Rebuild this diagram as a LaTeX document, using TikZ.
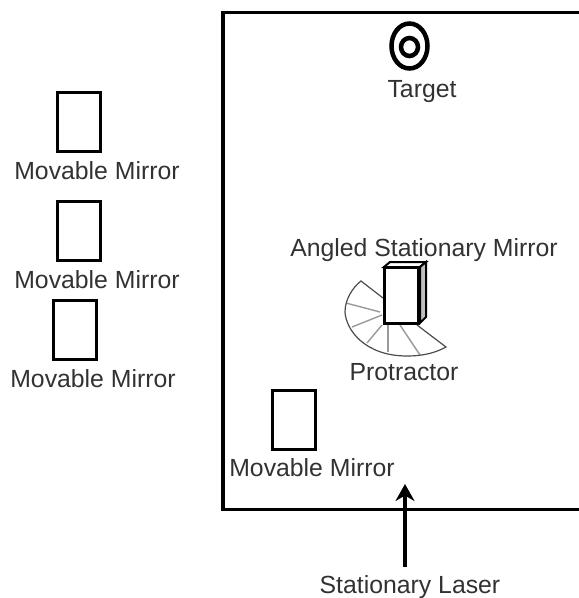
\documentclass[tikz,border=0pt]{standalone}
\usepackage{fontspec}
\setmainfont{Liberation Sans}
\usepackage{xcolor}
\usetikzlibrary{arrows.meta,positioning}
\definecolor{labelgray}{RGB}{50,50,50}
\tikzset{
  mirrorbox/.style={draw,line width=3pt,minimum width=43pt,minimum height=59pt,inner sep=0pt},
  lab/.style={text=labelgray,inner sep=0pt,font=\fontsize{24.8}{27}\selectfont},
  ray/.style={black!40,line width=1.4pt},
}
\begin{document}
\begin{tikzpicture}[x=1pt,y=-1pt,>={Stealth[length=17pt,width=19pt]}]
  \useasboundingbox (0,0) rectangle (579,598);
  % room
  \draw[line width=3.5pt] (579,12.5) -- (223,12.5) -- (223,509.5) -- (579,509.5);
  % target
  \draw[line width=4.5pt] (409.5,46) ellipse (18 and 22.5);
  \draw[line width=4.5pt] (409.5,47) ellipse (8.5 and 9);
  \node[lab] (target) at (422,92) {Target};
  % mirrors outside the room
  \node[mirrorbox] (mirrorA) at (79,121.5) {};
  \node[mirrorbox] (mirrorB) at (79,230.5) {};
  \node[mirrorbox] (mirrorC) at (75,329.5) {};
  \node[mirrorbox] (mirrorD) at (294,419.5) {};
  \node[lab] (labA) at (97,171) {Movable Mirror};
  \node[lab] (labB) at (97,280) {Movable Mirror};
  \node[lab] (labC) at (93,379) {Movable Mirror};
  \node[lab] (labD) at (312,468) {Movable Mirror};
  % protractor
  \draw[ray] (380,312) -- (346,303);
  \draw[ray] (382,315) -- (352,327);
  \draw[ray] (382,325) -- (367,343);
  \draw[ray] (388,325) -- (388,352);
  \draw[ray] (400,325) -- (420,355);
  \draw[black!70,line width=1.2pt] (383,298) -- (361,281)
    .. controls (352,288) and (345,300) .. (345,312)
    .. controls (346,330) and (365,356) .. (407,356)
    .. controls (425,356) and (437,352) .. (446,347) -- (417,325);
  % angled mirror
  \draw[line width=2pt,fill=white] (384,267) -- (390,262) -- (426,262) -- (420,267) -- cycle;
  \draw[line width=2pt,fill=black!25] (420,267) -- (426,262) -- (426,317) -- (420,323) -- cycle;
  \node[draw,line width=3pt,fill=white,minimum width=34pt,minimum height=56pt,inner sep=0pt] (angled) at (401.5,295) {};
  \node[lab] (angledlab) at (424,250) {Angled Stationary Mirror};
  \node[lab] (protlab) at (404,372.5) {Protractor};
  % laser
  \coordinate (laserend) at (405,484);
  \node[lab] (laser) at (410,587) {Stationary Laser};
  \coordinate (laserstart) at (405,567);
  \draw[->,line width=4.5pt] (laserstart) -- (laserend);
\end{tikzpicture}
\end{document}
